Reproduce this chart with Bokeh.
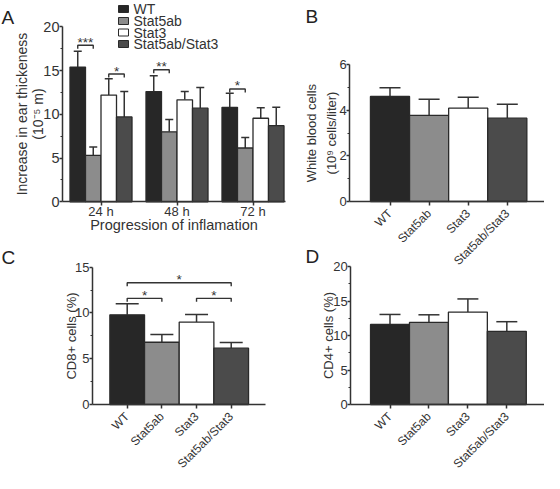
import math
from bokeh.plotting import figure
from bokeh.models import (ColumnDataSource, FixedTicker, Whisker, TeeHead, Range1d,
                          LinearAxis)
from bokeh.embed import file_html
from bokeh.resources import INLINE
from bokeh.core.properties import value

# ---------------- data ----------------
groups = ["WT", "Stat5ab", "Stat3", "Stat5ab/Stat3"]
timepoints = ["24 h", "48 h", "72 h"]

# Panel A: increase in ear thickness (10^-5 m), mean and SEM per timepoint
ear_wt = [15.4, 12.6, 10.8]
ear_wt_err = [1.8, 1.8, 1.6]
ear_stat5ab = [5.3, 8.0, 6.15]
ear_stat5ab_err = [0.95, 1.42, 1.21]
ear_stat3 = [12.2, 11.65, 9.55]
ear_stat3_err = [1.85, 0.95, 1.2]
ear_dko = [9.7, 10.7, 8.7]
ear_dko_err = [2.9, 2.36, 2.1]

# Panel A significance brackets
sig_a_time = [0, 0, 1, 2]
sig_a_from = [0, 2, 0, 0]
sig_a_to = [1, 3, 1, 1]
sig_a_y = [17.9, 14.6, 15.1, 12.9]
sig_a_text = ["***", "*", "**", "*"]

# Panel B: white blood cells (10^9 cells/liter)
wbc = [4.6, 3.77, 4.09, 3.65]
wbc_err = [0.38, 0.71, 0.48, 0.61]

# Panel C: CD8+ cells (%)
cd8 = [9.8, 6.8, 9.0, 6.15]
cd8_err = [1.2, 0.84, 0.84, 0.62]
sig_c_from = [0, 0, 2]
sig_c_to = [3, 1, 3]
sig_c_y = [13.3, 11.6, 11.6]
sig_c_text = ["*", "*", "*"]

# Panel D: CD4+ cells (%)
cd4 = [11.6, 11.9, 13.4, 10.6]
cd4_err = [1.45, 1.1, 1.9, 1.4]

# ---------------- style / layout ----------------
FONT = "Liberation Sans"
TXT = "#333333"
AX = "#333333"
OUT = "#2a2a2a"
colors = ["#272727", "#8c8c8c", "#ffffff", "#4b4b4b"]

W, H = 544, 481          # canvas; screen x = 8 + canvas x, screen y = canvas y
LEFT, RIGHT = 8, 8 + W   # canvas edges in screen px


class Panel:
    """Pixel scale of one sub-panel on the shared canvas."""
    def __init__(self, name, pxx, x0, pxy, y0):
        self.name, self.pxx, self.x0, self.pxy, self.y0 = name, pxx, x0, pxy, y0
        self.xr = Range1d((LEFT - x0) / pxx, (RIGHT - x0) / pxx)
        self.yr = Range1d((y0 - H) / pxy, y0 / pxy)

    def fx(self, r):
        return (r - self.x0) / self.pxx

    def fy(self, r):
        return (self.y0 - r) / self.pxy

    @property
    def kw(self):
        return dict(x_range_name=self.name, y_range_name=self.name)


PA = Panel("default", 76, 108.5, 8.75, 201.3)
PB = Panel("b", 39.1, 397.5, 22.83, 201)
PC = Panel("c", 34.67, 134.7, 9.153, 404)
PD = Panel("d", 38.94, 397.5, 6.9, 404)

p = figure(width=W, height=H, x_range=PA.xr, y_range=PA.yr,
           output_backend="svg", toolbar_location=None, title=None, min_border=0,
           x_axis_location=None, y_axis_location=None)
for P in (PB, PC, PD):
    p.extra_x_ranges[P.name] = P.xr
    p.extra_y_ranges[P.name] = P.yr
p.xgrid.visible = False
p.ygrid.visible = False
p.outline_line_color = None
p.background_fill_color = "white"
p.border_fill_color = "white"


def style(ax):
    ax.axis_line_color = AX
    ax.axis_line_width = 1.5
    ax.major_tick_line_color = AX
    ax.major_tick_line_width = 1.5
    ax.major_tick_in = 0
    ax.major_tick_out = 4
    ax.minor_tick_line_color = AX
    ax.minor_tick_line_width = 1.2
    ax.minor_tick_in = 0
    ax.minor_tick_out = 2
    ax.major_label_text_color = TXT
    ax.major_label_text_font = FONT
    ax.major_label_standoff = 0
    ax.axis_label_text_color = TXT
    ax.axis_label_text_font = FONT
    ax.axis_label_text_font_style = "normal"
    return ax


def y_axis(P, ref_x, top, ticks, minor, label, tick_fs, label_fs, label_standoff,
           line_height=1.2):
    ax = style(LinearAxis(**P.kw))
    ax.fixed_location = P.fx(ref_x)
    ax.bounds = (0, top)
    ax.ticker = FixedTicker(ticks=ticks, minor_ticks=minor)
    ax.major_tick_out = 3
    ax.major_label_text_font_size = tick_fs
    ax.axis_label = label
    ax.axis_label_text_font_size = label_fs
    ax.axis_label_text_line_height = line_height
    ax.axis_label_standoff = label_standoff
    p.add_layout(ax, "left")
    return ax


def x_axis(P, ref_x0, ref_x1, labels, rotated):
    ax = style(LinearAxis(**P.kw))
    ax.fixed_location = 0
    ax.bounds = (P.fx(ref_x0), P.fx(ref_x1))
    ax.ticker = FixedTicker(ticks=list(range(len(labels))), minor_ticks=[])
    ax.major_label_overrides = {i: g for i, g in enumerate(labels)}
    if rotated:
        ax.major_label_orientation = math.pi / 4
        ax.major_label_text_font_size = "12px"
        ax.major_label_standoff = 6
    p.add_layout(ax, "below")
    return ax


def whisker(P, xs, means, errs, size):
    src = ColumnDataSource(dict(x=xs, lower=means, upper=[m + e for m, e in zip(means, errs)]))
    p.add_layout(Whisker(source=src, base="x", lower="lower", upper="upper",
                         dimension="height", line_color=AX, line_width=1.5, lower_head=None,
                         upper_head=TeeHead(size=size, line_color=AX, line_width=1.5),
                         **P.kw))


def bracket(P, x1, x2, y, txt):
    leg = 3.5 / P.pxy
    p.multi_line(xs=[[x1, x1, x2, x2]], ys=[[y - leg, y, y, y - leg]],
                 line_color=AX, line_width=1.4, **P.kw)
    p.text(x=[(x1 + x2) / 2], y=[y + 3 / P.pxy], text=[txt], text_align="center",
           text_baseline="alphabetic", text_font=value(FONT), text_font_size="13.5px",
           text_color=TXT, **P.kw)


def letter(txt, ref_x, ref_y):
    p.text(x=[PA.fx(ref_x)], y=[PA.fy(ref_y)], text=[txt], text_align="left",
           text_baseline="alphabetic", text_font=value(FONT), text_font_size="19px",
           text_color="#222222")


# ---------------- Panel A ----------------
y_axis(PA, 70, 20, [0, 5, 10, 15, 20], [2.5, 7.5, 12.5, 17.5],
       "Increase in ear thickeness\n(10\u207b\u2075 m)", "14.5px", "14px", -6, 1.0)
axA = x_axis(PA, 70, 293, timepoints, False)
axA.major_label_text_font_size = "13px"
axA.major_label_standoff = -2
axA.axis_label = "Progression of inflamation"
axA.axis_label_text_font_size = "14.5px"
axA.axis_label_standoff = -5

bw_a = 0.204
offs = [-1.5, -0.5, 0.5, 1.5]
series_a = [(ear_wt, ear_wt_err), (ear_stat5ab, ear_stat5ab_err),
            (ear_stat3, ear_stat3_err), (ear_dko, ear_dko_err)]
for k, (m, e) in enumerate(series_a):
    xs = [t + offs[k] * bw_a for t in range(len(timepoints))]
    p.vbar(x=xs, top=m, width=bw_a, fill_color=colors[k], line_color=OUT, line_width=1.3)
    whisker(PA, xs, m, e, 8)

for t, i, j, y, s in zip(sig_a_time, sig_a_from, sig_a_to, sig_a_y, sig_a_text):
    bracket(PA, t + offs[i] * bw_a, t + offs[j] * bw_a, y, s)

# legend (manual, compact rows)
leg_y = [PA.fy(r) for r in (8.5, 20.5, 32, 43.5)]
p.rect(x=[PA.fx(131)] * 4, y=leg_y, width=10, height=7, width_units="screen",
       height_units="screen", fill_color=colors, line_color=OUT, line_width=1)
p.text(x=[PA.fx(141)] * 4, y=leg_y, text=groups, text_align="left", text_baseline="middle",
       text_font=value(FONT), text_font_size="14px", text_color=TXT)

# ---------------- Panel B ----------------
xs4 = list(range(len(groups)))
y_axis(PB, 357.3, 6, [0, 2, 4, 6], [1, 3, 5],
       "White blood cells\n(10\u2079 cells/liter)", "13px", "13px", -3, 1.35)
x_axis(PB, 357.3, 552, groups, True)
p.vbar(x=xs4, top=wbc, width=1.0, fill_color=colors, line_color=OUT, line_width=1.3, **PB.kw)
whisker(PB, xs4, wbc, wbc_err, 21)

# ---------------- Panel C ----------------
y_axis(PC, 100, 15, [0, 5, 10, 15], [2.5, 7.5, 12.5], "CD8+ cells (%)", "13px", "13px", -7)
x_axis(PC, 100, 273.3, groups, True)
p.vbar(x=xs4, top=cd8, width=1.0, fill_color=colors, line_color=OUT, line_width=1.3, **PC.kw)
whisker(PC, xs4, cd8, cd8_err, 23)
for i, j, y, s in zip(sig_c_from, sig_c_to, sig_c_y, sig_c_text):
    bracket(PC, i, j, y, s)

# ---------------- Panel D ----------------
y_axis(PD, 358.3, 20, [0, 5, 10, 15, 20], [2.5, 7.5, 12.5, 17.5], "CD4+ cells (%)",
       "13px", "13px", -6)
x_axis(PD, 358.3, 552, groups, True)
p.vbar(x=xs4, top=cd4, width=1.0, fill_color=colors, line_color=OUT, line_width=1.3, **PD.kw)
whisker(PD, xs4, cd4, cd4_err, 21)

# ---------------- panel letters ----------------
letter("A", 9, 17)
letter("B", 313, 16)
letter("C", 9, 257)
letter("D", 313, 256)

open("out.html", "w").write(file_html(p, INLINE))
